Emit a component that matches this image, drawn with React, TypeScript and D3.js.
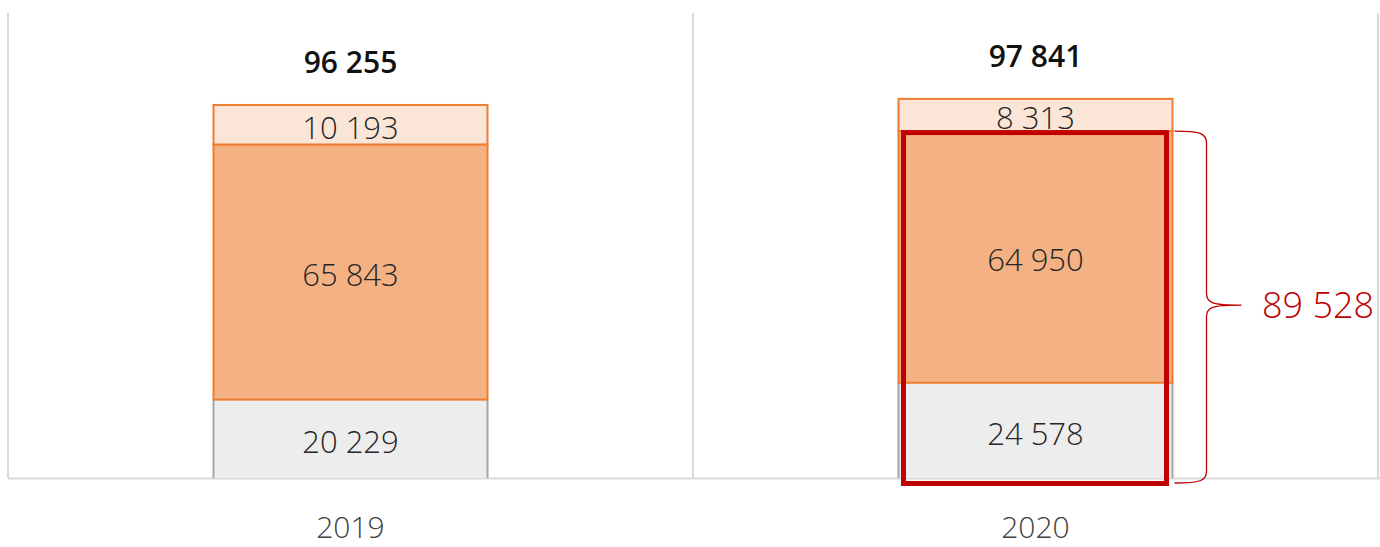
import React from "react";
import * as d3 from "d3";

const categories = ["2019", "2020"];
const bottomValues = [20229, 24578];
const middleValues = [65843, 64950];
const topValues = [10193, 8313];
const totals = [96255, 97841];
const highlightLabel = "89 528";

const W = 1380;
const H = 547;

const fmt = (v: number) => d3.format(",")(v).replace(/,/g, " ");

export default function App() {
  const x = d3.scaleBand<string>().domain(categories).range([8, 1378]).paddingInner(0.6).paddingOuter(0.3);
  const grid = d3.scaleBand<string>().domain(categories).range([8, 1378]).padding(0);
  const y = d3.scaleLinear().domain([0, 120000]).range([478, 13]);
  const bw = x.bandwidth();

  const segs = categories.map((c, i) => {
    const b = bottomValues[i], m = middleValues[i], t = topValues[i];
    return [
      { key: "bottom", y0: 0, y1: b, v: b, fill: "#EDEDED", stroke: "#A5A5A5" },
      { key: "middle", y0: b, y1: b + m, v: m, fill: "#F4B183", stroke: "#ED7D31" },
      { key: "top", y0: b + m, y1: b + m + t, v: t, fill: "#FBE5D6", stroke: "#ED7D31" },
    ];
  });

  const hi = 1;
  const hx0 = (x(categories[hi]) as number) + 5;
  const hx1 = (x(categories[hi]) as number) + bw - 6;
  const hyTop = y(bottomValues[hi] + middleValues[hi]) + 1.5;
  const hyBot = y(0) + 5.5;
  const bx = (x(categories[hi]) as number) + bw + 2;
  const bTop = y(bottomValues[hi] + middleValues[hi]);
  const bBot = y(0) + 5;
  const bMid = (bTop + bBot) / 2 - 2;
  const brW = 32;
  const bracket = `M${bx},${bTop} C${bx + brW * 0.8},${bTop} ${bx + brW},${bTop + 2} ${bx + brW},${bTop + 12}
    L${bx + brW},${bMid - 12} C${bx + brW},${bMid - 2} ${bx + brW + 5},${bMid} ${bx + brW + 35},${bMid}
    M${bx + brW + 35},${bMid} C${bx + brW + 5},${bMid} ${bx + brW},${bMid + 2} ${bx + brW},${bMid + 12}
    L${bx + brW},${bBot - 12} C${bx + brW},${bBot - 2} ${bx + brW * 0.8},${bBot} ${bx},${bBot}`;

  const font = "'Open Sans', 'Noto Sans', sans-serif";

  return (
    <svg width={W} height={H} style={{ position: "absolute", left: 0, top: 0, background: "#fff" }}>
      {/* gridlines */}
      <line x1={8} x2={8} y1={13} y2={478} stroke="#D9D9D9" strokeWidth={2} />
      {categories.map((c) => (
        <line key={c} x1={(grid(c) as number) + grid.bandwidth()} x2={(grid(c) as number) + grid.bandwidth()} y1={13} y2={478} stroke="#D9D9D9" strokeWidth={2} />
      ))}
      <line x1={8} x2={1380} y1={478.5} y2={478.5} stroke="#D9D9D9" strokeWidth={2} />

      {categories.map((c, i) => {
        const x0 = x(c) as number;
        return (
          <g key={c}>
            {segs[i].map((s) => (
              <g key={s.key}>
                <rect x={x0} y={y(s.y1)} width={bw} height={y(s.y0) - y(s.y1)} fill={s.fill} />
                {s.key === "bottom" ? (
                  <path d={`M${x0},${y(s.y0)} V${y(s.y1)} M${x0 + bw},${y(s.y1)} V${y(s.y0)}`} stroke={s.stroke} strokeWidth={2} fill="none" />
                ) : (
                  <rect x={x0} y={y(s.y1)} width={bw} height={y(s.y0) - y(s.y1)} fill="none" stroke={s.stroke} strokeWidth={2} />
                )}
              </g>
            ))}
            {segs[i].map((s) => (
              <text key={s.key + "t"} x={x0 + bw / 2} y={(y(s.y0) + y(s.y1)) / 2 + 6} textAnchor="middle" dominantBaseline="middle" fontFamily={font} fontWeight={300} fontSize={31} fill="#262626">
                {fmt(s.v)}
              </text>
            ))}
            <text x={x0 + bw / 2} y={y(totals[i]) - 32} textAnchor="middle" fontFamily={font} fontWeight={600} fontSize={30} fill="#111">
              {fmt(totals[i])}
            </text>
            <text x={x0 + bw / 2} y={538} textAnchor="middle" fontFamily={font} fontWeight={300} fontSize={30} fill="#404040">
              {c}
            </text>
          </g>
        );
      })}

      {/* highlight */}
      <rect x={hx0} y={hyTop} width={hx1 - hx0} height={hyBot - hyTop} fill="none" stroke="#C00000" strokeWidth={5} />
      <path d={bracket} fill="none" stroke="#C00000" strokeWidth={1.3} />
      <text x={1262} y={bMid + 13} fontFamily={font} fontWeight={300} fontSize={36} fill="#C00000">
        {highlightLabel}
      </text>
    </svg>
  );
}
